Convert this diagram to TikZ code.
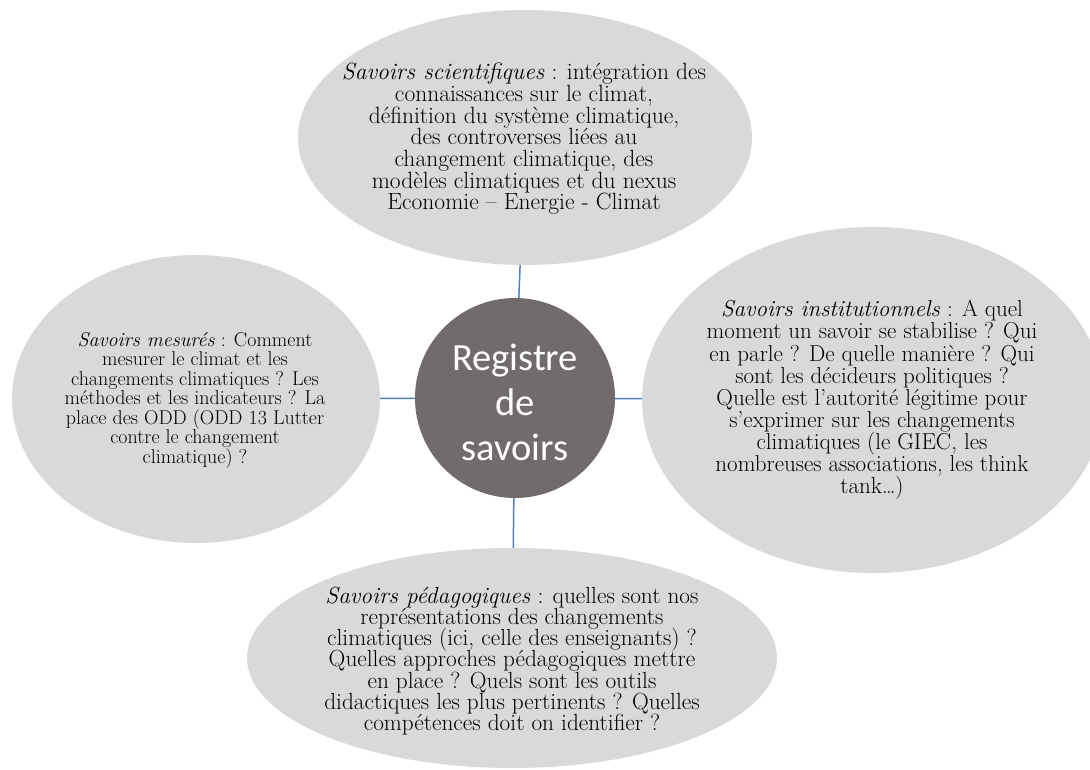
\documentclass[tikz,border=0pt]{standalone}
\usepackage{fontspec}
\newfontfamily\hubfont{Carlito}
\usetikzlibrary{shapes.geometric}
\definecolor{bubblegray}{HTML}{D9D9D9}
\definecolor{hubgray}{HTML}{716C6B}
\definecolor{linkblue}{HTML}{4F81BD}
\begin{document}
\begin{tikzpicture}[x=1pt,y=-1pt,
  bubble/.style={ellipse, fill=bubblegray, draw=none, inner sep=0pt},
  bubbletext/.style={align=center, inner sep=0pt, font={\fontsize{23.5}{21.7}\selectfont\lineskiplimit=-100pt}},
  smalltext/.style={align=center, inner sep=0pt, font={\fontsize{20}{19.5}\selectfont\lineskiplimit=-100pt}},
  hub/.style={circle, fill=hubgray, inner sep=0pt, minimum size=200pt},
  hubtext/.style={text=white, align=center, inner sep=0pt, font={\hubfont\fontsize{38.5}{45}\selectfont\lineskiplimit=-100pt}},
  link/.style={draw=linkblue, line width=1.5pt}]
\useasboundingbox (0,0) rectangle (1090,769);
\fill[white] (0,0) rectangle (1090,769);

\node[bubble, minimum width=454pt, minimum height=255pt] (sci) at (525,137.5) {};
\node[bubble, minimum width=368pt, minimum height=288pt] (mes) at (196,399) {};
\node[bubble, minimum width=462pt, minimum height=346pt] (inst) at (873,400) {};
\node[bubble, minimum width=530pt, minimum height=220pt] (ped) at (512,658) {};
\node[hub] (hub) at (515,398) {};
\node[hubtext] (hublabel) at (515,402) {Registre\\de\\savoirs};

\draw[link] (hub) -- (sci);
\draw[link] (hub) -- (mes);
\draw[link] (hub) -- (inst);
\draw[link] (hub) -- (ped);

\node[bubbletext] (scitext) at (524,139) {\textit{Savoirs scientifiques} : intégration des\\connaissances sur le climat,\\définition du système climatique,\\des controverses liées au\\changement climatique, des\\modèles climatiques et du nexus\\Economie – Energie - Climat};

\node[smalltext] (mestext) at (195,400) {\textit{Savoirs mesurés} : Comment\\mesurer le climat et les\\changements climatiques ? Les\\méthodes et les indicateurs ? La\\place des ODD (ODD 13 Lutter\\contre le changement\\climatique) ?};

\node[bubbletext, font={\fontsize{23}{22.1}\selectfont\lineskiplimit=-100pt}] (insttext) at (872,400) {\textit{Savoirs institutionnels} : A quel\\moment un savoir se stabilise ? Qui\\en parle ? De quelle manière ? Qui\\sont les décideurs politiques ?\\Quelle est l’autorité légitime pour\\s’exprimer sur les changements\\climatiques (le GIEC, les\\nombreuses associations, les think\\tank…)};

\node[bubbletext, font={\fontsize{23.3}{21.3}\selectfont\lineskiplimit=-100pt}] (pedtext) at (512,661) {\textit{Savoirs pédagogiques} : quelles sont nos\\représentations des changements\\climatiques (ici, celle des enseignants) ?\\Quelles approches pédagogiques mettre\\en place ? Quels sont les outils\\didactiques les plus pertinents ? Quelles\\compétences doit on identifier ?};
\end{tikzpicture}
\end{document}
